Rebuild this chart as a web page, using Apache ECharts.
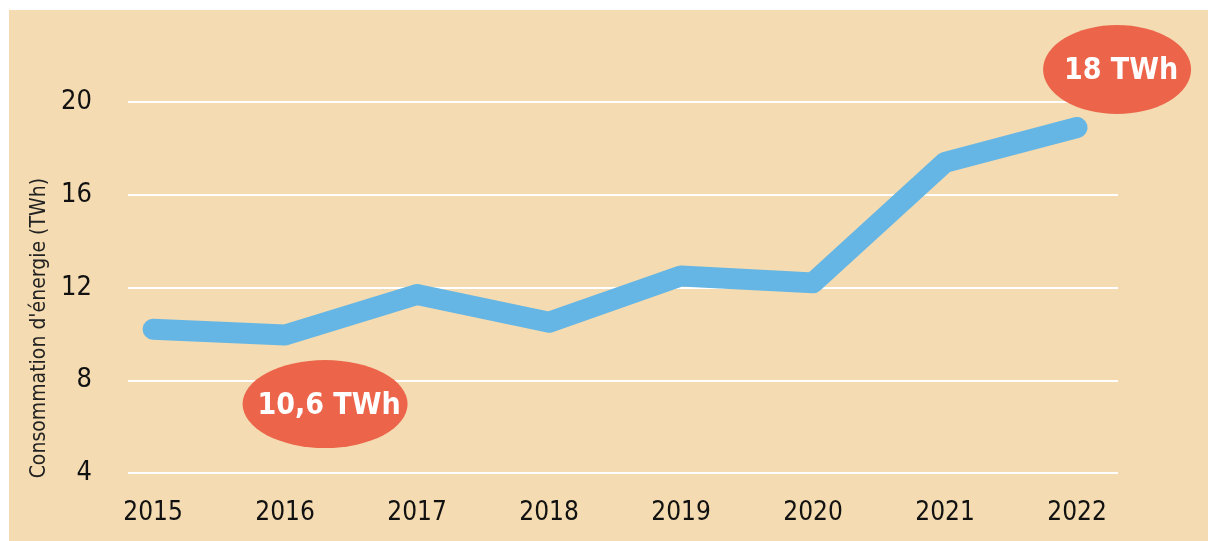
<!DOCTYPE html>
<html>
<head>
<meta charset="utf-8">
<script src="https://cdn.jsdelivr.net/npm/echarts@6/dist/echarts.min.js"></script>
<style>
  html, body { margin: 0; padding: 0; background: #ffffff; }
  #chart { position: absolute; left: 9px; top: 10px; width: 1199px; height: 531px; }
</style>
</head>
<body>
<div id="chart"></div>
<script>
// données
var years = [2015, 2016, 2017, 2018, 2019, 2020, 2021, 2022];
var conso = [10.2, 9.95, 11.7, 10.5, 12.5, 12.2, 17.4, 18.9];
var yTicks = [4, 8, 12, 16, 20];
var bubbles = [
    { index: 1, text: '10,6 TWh', offset: [40, 69], size: [165, 88] },
    { index: 7, text: '18 TWh', offset: [40, -58], size: [148, 89] }
];

var narrow = '"Liberation Sans Narrow", "DejaVu Sans Condensed", "Roboto Condensed", sans-serif';

chart();

function chart() {
    var myChart = echarts.init(document.getElementById('chart'));

    var points = years.map(function (y, i) { return [y, conso[i]]; });

    var option = {
        backgroundColor: '#F4DBB1',
        animation: false,
        grid: { left: 119, right: 90, top: 92, bottom: 68 },
        xAxis: {
            type: 'value',
            min: years[0] - 0.19,
            max: years[years.length - 1] + 0.31,
            axisLine: { show: false },
            axisTick: { show: false },
            splitLine: { show: false },
            axisLabel: {
                customValues: years,
                formatter: function (v) { return String(v); },
                color: '#111',
                fontFamily: narrow,
                fontWeight: 500,
                fontSize: 26,
                margin: 27
            }
        },
        yAxis: {
            type: 'value',
            min: yTicks[0],
            max: yTicks[yTicks.length - 1],
            interval: 4,
            axisLine: { show: false },
            axisTick: { show: false },
            splitLine: { lineStyle: { color: '#ffffff', width: 2 } },
            axisLabel: {
                color: '#111',
                fontFamily: narrow,
                fontWeight: 500,
                fontSize: 27,
                margin: 36
            }
        },
        graphic: [{
            type: 'text',
            left: 20,
            top: 168,
            rotation: Math.PI / 2,
            style: {
                text: "Consommation d'énergie (TWh)",
                fill: '#222',
                font: '300 21px ' + narrow
            }
        }],
        series: [{
            type: 'line',
            data: points,
            symbol: 'none',
            lineStyle: { color: '#65B6E4', width: 21, cap: 'round', join: 'round' },
            markPoint: {
                symbol: 'circle',
                itemStyle: { color: '#EC654B' },
                label: {
                    show: true,
                    color: '#fff',
                    fontFamily: narrow,
                    fontWeight: 'bold',
                    fontSize: 30,
                    offset: [4, 2]
                },
                data: bubbles.map(function (b) {
                    return {
                        coord: points[b.index],
                        symbolOffset: b.offset,
                        symbolSize: b.size,
                        value: b.text,
                        label: { formatter: b.text }
                    };
                })
            }
        }]
    };

    myChart.setOption(option);
    window.addEventListener('resize', function () { myChart.resize(); });
}
</script>
</body>
</html>
